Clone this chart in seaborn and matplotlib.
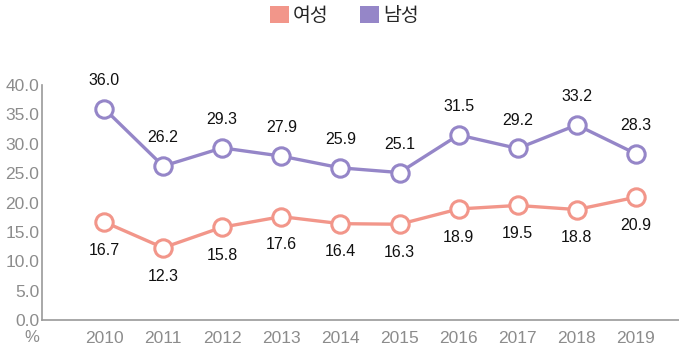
import matplotlib
matplotlib.use("Agg")
import matplotlib.pyplot as plt
import seaborn as sns
import pandas as pd
from matplotlib.font_manager import fontManager
from matplotlib.patches import Patch

years = ["2010", "2011", "2012", "2013", "2014", "2015", "2016", "2017", "2018", "2019"]
female = [16.7, 12.3, 15.8, 17.6, 16.4, 16.3, 18.9, 19.5, 18.8, 20.9]
male = [36.0, 26.2, 29.3, 27.9, 25.9, 25.1, 31.5, 29.2, 33.2, 28.3]
series_names = ["여성", "남성"]
yticks = [0, 5, 10, 15, 20, 25, 30, 35, 40]

sns.set_theme(style="white")
names = {f.name for f in fontManager.ttflist}
num_font = "Liberation Sans Narrow" if "Liberation Sans Narrow" in names else "Liberation Sans"
plt.rcParams["font.family"] = [num_font, "Noto Sans CJK KR", "DejaVu Sans"]

c_f = "#F2968A"
c_m = "#9586C8"
gray = "#8C8C8C"

df = pd.DataFrame({
    "year": years * 2,
    "value": female + male,
    "sex": [series_names[0]] * len(years) + [series_names[1]] * len(years),
})
df["pos"] = list(range(len(years))) * 2

fig = plt.figure(figsize=(6.79, 3.5), dpi=100)
ax = fig.add_axes([0.0619, 0.0857, 0.9381, 0.6714])

sns.lineplot(data=df, x="pos", y="value", hue="sex",
             palette={series_names[0]: c_f, series_names[1]: c_m},
             linewidth=2.4, marker="o", markersize=12.5, markerfacecolor="white",
             markeredgewidth=2.2, legend=False, ax=ax, clip_on=False)
for line in ax.lines:
    line.set_markeredgecolor(line.get_color())

for i, v in enumerate(male):
    ax.annotate(f"{v:.1f}", (i, v), xytext=(0, 15), textcoords="offset points",
                ha="center", va="bottom", fontsize=11.5, color="#111111")
for i, v in enumerate(female):
    ax.annotate(f"{v:.1f}", (i, v), xytext=(0, -15), textcoords="offset points",
                ha="center", va="top", fontsize=11.5, color="#111111")

ax.set_xlim(-1.05, 9.73)
ax.set_ylim(0, 40)
ax.set_yticks(yticks)
ax.set_yticklabels([f"{t:.1f}" for t in yticks])
ax.set_xticks(range(len(years)))
ax.set_xticklabels(years)
ax.tick_params(axis="y", direction="in", length=8, width=1, color="#999999",
               labelsize=12.5, labelcolor=gray, pad=2)
ax.tick_params(axis="x", length=0, labelsize=12.5, labelcolor=gray, pad=8)
ax.set_xlabel("")
ax.set_ylabel("")
for s in ["top", "right"]:
    ax.spines[s].set_visible(False)
for s in ["left", "bottom"]:
    ax.spines[s].set_color("#999999")
    ax.spines[s].set_linewidth(1.2)

fig.text(32 / 679, 1 - 338 / 350, "%", ha="center", va="center",
         fontsize=12, color=gray)

handles = [Patch(facecolor=c_f, edgecolor="none"), Patch(facecolor=c_m, edgecolor="none")]
fig.legend(handles, series_names, loc="center", bbox_to_anchor=(0.507, 0.955),
           ncol=2, frameon=False, handlelength=1.0, handleheight=1.0,
           handletextpad=0.2, columnspacing=1.6,
           prop={"family": ["Noto Sans CJK KR"], "size": 14})

fig.savefig("out.png", dpi=100)
